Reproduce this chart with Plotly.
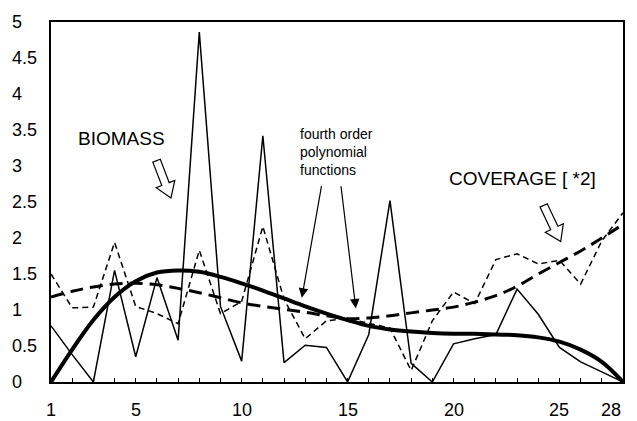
import math
import plotly.graph_objects as go

# ---------------- data ----------------
days = list(range(1, 29))
biomass = [0.78, 0.38, 0.0, 1.55, 0.35, 1.45, 0.58, 4.86, 1.05, 0.29,
           3.42, 0.27, 0.51, 0.48, 0.0, 0.66, 2.52, 0.26, 0.0, 0.53,
           0.60, 0.66, 1.29, 0.94, 0.48, 0.28, 0.14, 0.0]
coverage2 = [1.50, 1.03, 1.04, 1.94, 1.05, 0.95, 0.81, 1.83, 0.95, 1.12,
             2.16, 1.15, 0.60, 0.85, 0.88, 0.82, 0.75, 0.16, 0.85, 1.25,
             1.09, 1.70, 1.78, 1.64, 1.69, 1.36, 1.96, 2.35]
biomass_fit = [0.00, 0.45, 0.86, 1.18, 1.40, 1.52, 1.55, 1.53, 1.46, 1.37,
               1.27, 1.16, 1.05, 0.95, 0.86, 0.78, 0.73, 0.70, 0.68, 0.67,
               0.67, 0.66, 0.65, 0.62, 0.56, 0.45, 0.28, 0.00]
coverage_fit = [1.18, 1.26, 1.32, 1.36, 1.37, 1.35, 1.30, 1.24, 1.17, 1.10,
                1.05, 1.01, 0.97, 0.92, 0.88, 0.89, 0.92, 0.96, 1.00, 1.04,
                1.11, 1.20, 1.33, 1.50, 1.66, 1.82, 2.00, 2.19]
x_ticks = [1, 5, 10, 15, 20, 25, 28]
x_tick_labels = ["1", "5", "10", "15", "20", "25", "28"]
y_ticks = [0, 0.5, 1, 1.5, 2, 2.5, 3, 3.5, 4, 4.5, 5]
y_tick_labels = ["0", "0.5", "1", "1.5", "2", "2.5", "3", "3.5", "4", "4.5", "5"]

FONT = "Liberation Sans, Arial, sans-serif"

fig = go.Figure()
fig.add_trace(go.Scatter(x=days, y=coverage2, mode="lines",
                         line=dict(color="black", width=1.5, dash="6px,4px")))
fig.add_trace(go.Scatter(x=days, y=biomass, mode="lines",
                         line=dict(color="black", width=1.5)))
fig.add_trace(go.Scatter(x=days, y=coverage_fit, mode="lines",
                         line=dict(color="black", width=3, dash="13px,7px",
                                   shape="spline", smoothing=1.0)))
fig.add_trace(go.Scatter(x=days, y=biomass_fit, mode="lines",
                         line=dict(color="black", width=4,
                                   shape="spline", smoothing=1.0)))

# y tick labels (left aligned, as in the original)
for v, lab in zip(y_ticks, y_tick_labels):
    fig.add_annotation(x=0, xref="paper", y=v, yref="y", text=lab,
                       showarrow=False, xanchor="left", xshift=-41,
                       font=dict(family=FONT, size=18, color="black"))

# x tick labels
for i, (v, lab) in enumerate(zip(x_ticks, x_tick_labels)):
    last = i == len(x_ticks) - 1
    fig.add_annotation(x=v, xref="x", y=0, yref="paper", text=lab,
                       showarrow=False, xanchor="center", yanchor="middle",
                       yshift=-28, xshift=-12 if last else 0,
                       font=dict(family=FONT, size=18, color="black"))

# text labels
fig.add_annotation(x=4.35, y=3.38, text="BIOMASS", showarrow=False,
                   font=dict(family=FONT, size=19, color="black"))
fig.add_annotation(x=23.26, y=2.83, text="COVERAGE [ *2]", showarrow=False,
                   font=dict(family=FONT, size=19, color="black"))
fig.add_annotation(x=12.65, y=3.20, text="fourth order<br>polynomial<br>functions",
                   showarrow=False, xanchor="left", align="left",
                   font=dict(family=FONT, size=14, color="black"))

# thin arrows with filled heads
for (tx, ty, ax, ay) in [(12.84, 1.17, 13.78, 2.74), (15.39, 1.02, 14.68, 2.74)]:
    fig.add_annotation(x=tx, y=ty, ax=ax, ay=ay, axref="x", ayref="y",
                       text="", showarrow=True, arrowhead=2, arrowsize=1.6,
                       arrowwidth=1.2, arrowcolor="black")

# hollow block arrows
def hollow_arrow(tipx, tipy, dx, dy, L=40, hl=15, hw=10, sw=4):
    n = math.hypot(dx, dy)
    ux, uy = dx / n, -dy / n
    px_, py_ = -uy, ux
    bx, by = -ux * hl, -uy * hl
    tx, ty = -ux * L, -uy * L
    pts = [(0, 0), (bx + px_ * hw, by + py_ * hw), (bx + px_ * sw, by + py_ * sw),
           (tx + px_ * sw, ty + py_ * sw), (tx - px_ * sw, ty - py_ * sw),
           (bx - px_ * sw, by - py_ * sw), (bx - px_ * hw, by - py_ * hw)]
    path = "M " + " L ".join(f"{a:.1f},{b:.1f}" for a, b in pts) + " Z"
    fig.add_shape(type="path", path=path, xref="x", yref="y",
                  xsizemode="pixel", ysizemode="pixel",
                  xanchor=tipx, yanchor=tipy,
                  line=dict(color="black", width=1.2), fillcolor="white")

hollow_arrow(6.66, 2.555, 15, 39)
hollow_arrow(25.06, 1.95, 17, 36)

# page body has an 8px margin, so the figure is sized to fit inside it
fig.update_layout(
    width=629, height=413,
    margin=dict(l=43, r=14, t=14, b=39),
    paper_bgcolor="white", plot_bgcolor="white",
    showlegend=False,
    font=dict(family=FONT, size=18, color="black"),
)
fig.update_xaxes(range=[1, 28], tickmode="array", tickvals=x_ticks,
                 showticklabels=False,
                 ticks="inside", ticklen=4, tickwidth=1, tickcolor="black",
                 minor=dict(tickmode="linear", tick0=1, dtick=1, ticks="inside",
                            ticklen=4, tickcolor="black"),
                 showline=True, linecolor="black", linewidth=2, mirror=True,
                 showgrid=False, zeroline=False)
fig.update_yaxes(range=[0, 5], tickvals=y_ticks, showticklabels=False,
                 ticks="", showline=True, linecolor="black", linewidth=2,
                 mirror=True, showgrid=False, zeroline=False)

fig.write_html("out.html")
